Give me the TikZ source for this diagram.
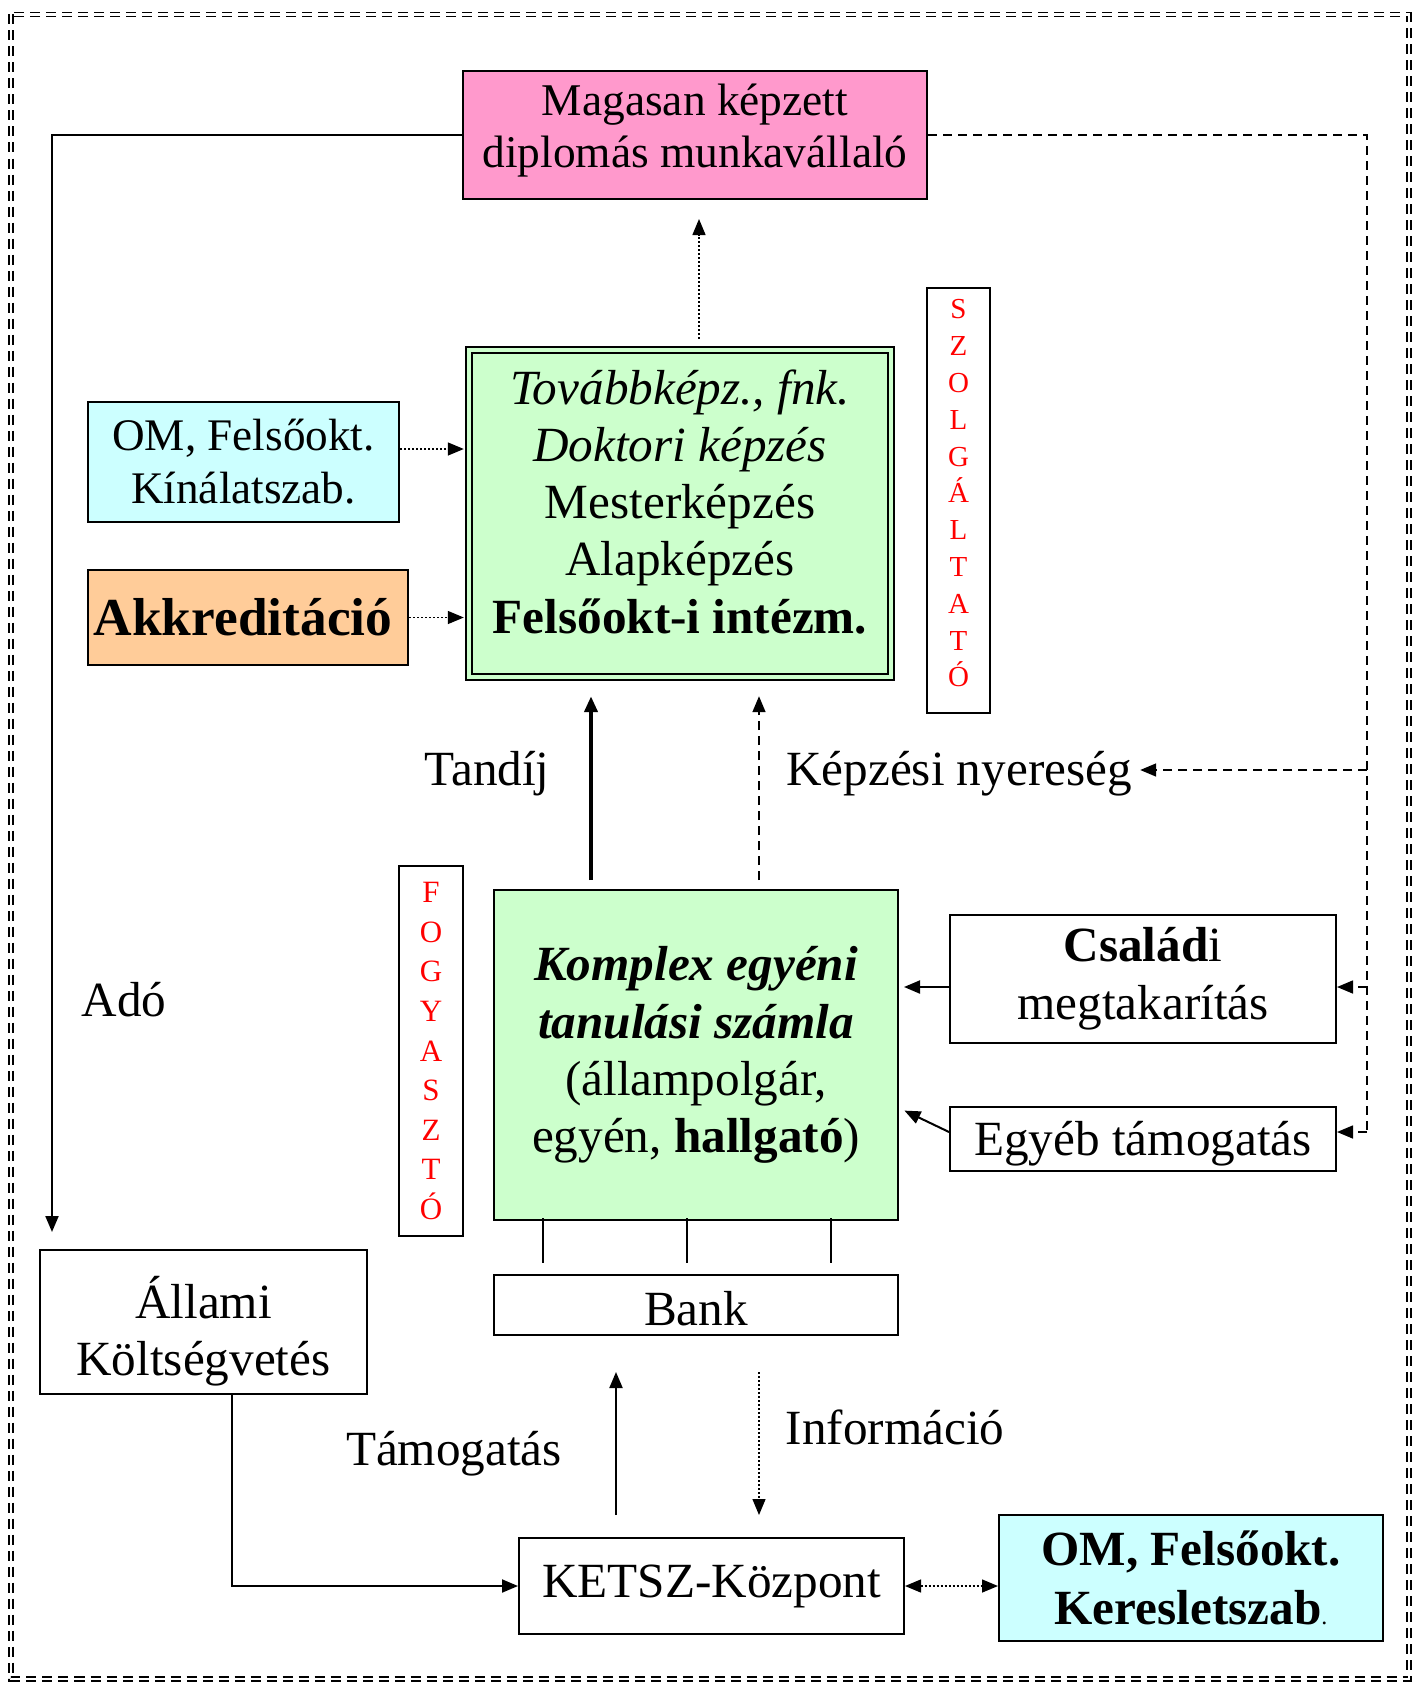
\documentclass[tikz,border=0pt]{standalone}
\usepackage{fontspec}
\setmainfont{Liberation Serif}
\usepackage{xcolor}
\usetikzlibrary{arrows.meta}

\definecolor{rozsaszin}{HTML}{FF99CC}
\definecolor{halvanyzold}{HTML}{CCFFCC}
\definecolor{halvanykek}{HTML}{CCFFFF}
\definecolor{barack}{HTML}{FFCC99}

\begin{document}
\begin{tikzpicture}[x=0.5pt,y=-0.5pt,
    doboz/.style={draw,line width=1pt,inner sep=0pt,align=center,font=\fontsize{24.6}{28.6}\selectfont},
    szoveg/.style={inner sep=0pt,align=center,font=\fontsize{24.6}{28.6}\selectfont},
    felirat/.style={inner sep=0pt,font=\fontsize{24.6}{28.6}\selectfont},
    hegy/.style={-{Triangle[length=8pt,width=6.5pt]}},
    vonal/.style={line width=1pt},
    pontozott/.style={line width=0.7pt,dash pattern=on 1pt off 1pt},
    szaggatott/.style={line width=0.8pt,dash pattern=on 4.5pt off 3pt}]
    \useasboundingbox (0,0) rectangle (1420,1686);
    \draw[double,line width=0.75pt,double distance=1.2pt,dash pattern=on 5pt off 3pt] (11,14.5) rectangle (1409,1679);

    \node[doboz,fill=rozsaszin,minimum width=232pt,minimum height=64pt,
        label={[szoveg,yshift=2pt,font=\fontsize{22.7}{26}\selectfont]center:{Magasan képzett\\diplomás munkavállaló}}] (magasan) at (695,135) {};
    \node[doboz,fill=halvanyzold,line width=1.2pt,double=halvanyzold,double distance=1.6pt,minimum width=211pt,minimum height=163.5pt,
        label={[szoveg,yshift=5.9pt]center:{\textit{Továbbképz., fnk.}\\\textit{Doktori képzés}\\Mesterképzés\\Alapképzés\\\textbf{Felsőokt-i intézm.}}}] (kinalat) at (680,513.5) {};
    \node[doboz,minimum width=31.5pt,minimum height=212.5pt,
        label={[szoveg,yshift=3.5pt,text=red,font=\fontsize{14.5}{18.4}\selectfont]center:{S\\Z\\O\\L\\G\\Á\\L\\T\\A\\T\\Ó}}] (szolg) at (958.5,500.5) {};
    \node[doboz,fill=halvanykek,minimum width=155.5pt,minimum height=60pt,font=\fontsize{22.6}{26.5}\selectfont] (om) at (243.5,462) {OM, Felsőokt.\\Kínálatszab.};
    \node[doboz,fill=barack,minimum width=160pt,minimum height=47.5pt,
        label={[szoveg,xshift=-2.5pt,font=\fontsize{26.7}{30}\selectfont\bfseries]center:{Akkreditáció}}] (akkr) at (248,617.5) {};

    \node[felirat] (tandij) at (487,774) {Tandíj};
    \node[felirat] (kepzesi) at (959,774) {Képzési nyereség};
    \node[felirat] (ado) at (124,1000) {Adó};

    \node[doboz,text=red,minimum width=32pt,minimum height=185pt,font=\fontsize{15.5}{19.8}\selectfont] (fogy) at (431,1051) {F\\O\\G\\Y\\A\\S\\Z\\T\\Ó};
    \node[doboz,fill=halvanyzold,minimum width=202pt,minimum height=165pt] (komplex) at (696,1055)
        {\textbf{\textit{Komplex egyéni}}\\\textbf{\textit{tanulási számla}}\\(állampolgár,\\egyén, \textbf{hallgató})};
    \node[doboz,minimum width=193pt,minimum height=64pt,font=\fontsize{24.6}{29}\selectfont] (csaladi) at (1143,979) {\textbf{Család}i\\megtakarítás};
    \node[doboz,minimum width=193pt,minimum height=32pt,
        label={[szoveg,yshift=-2.5pt]center:{Egyéb támogatás}}] (egyeb) at (1143,1139) {};
    \node[doboz,minimum width=202pt,minimum height=30pt,
        label={[szoveg,yshift=-2pt]center:{Bank}}] (bank) at (696,1305) {};
    \node[doboz,minimum width=163.5pt,minimum height=72pt,
        label={[szoveg,yshift=-4.5pt]center:{Állami\\Költségvetés}}] (allami) at (203.5,1322) {};

    \node[felirat] (tamogatas) at (454,1454) {Támogatás};
    \node[felirat] (informacio) at (895,1427) {Információ};
    \node[doboz,minimum width=192.5pt,minimum height=48pt] (ketsz) at (711.5,1586) {KETSZ-Központ};
    \node[doboz,fill=halvanykek,minimum width=192pt,minimum height=63pt,font=\fontsize{24.6}{29.5}\selectfont] (kereslet) at (1191,1578)
        {\textbf{OM, Felsőokt.}\\\textbf{Keresletszab}{\fontsize{12}{12}\selectfont.}};

    % bal oldali ado-ag es jobb oldali szaggatott ag
    \draw[vonal,hegy,shorten >=8.5pt] (magasan.west) -| ([xshift=-75.75pt]allami.north);
    \draw[szaggatott] (magasan.east) -| ([xshift=15pt,yshift=3.5pt]egyeb.east) coordinate (sarok);
    \draw[szaggatott,hegy] (sarok) -- ([yshift=3.5pt]egyeb.east);
    \draw[szaggatott,hegy] ([yshift=-4pt]csaladi.east -| sarok) -- ([yshift=-4pt]csaladi.east);
    \draw[szaggatott,hegy,shorten >=4pt] ([yshift=2pt]kepzesi.east -| sarok) -- ([yshift=2pt]kepzesi.east);

    \draw[pontozott,hegy,shorten <=5pt,shorten >=9.5pt] ([xshift=9.5pt]kinalat.north) -- ([xshift=9.5pt]kinalat.north |- magasan.south);
    \draw[pontozott,hegy,shorten >=2pt] ([yshift=6.5pt]om.east) -- ([yshift=6.5pt]om.east -| kinalat.west);
    \draw[pontozott,hegy,shorten >=2pt] (akkr.east) -- (akkr.east -| kinalat.west);

    \draw[line width=2pt,hegy,shorten <=4.5pt,shorten >=9pt] ([xshift=-52.5pt]komplex.north) -- ([xshift=-52.5pt]komplex.north |- kinalat.south);
    \draw[szaggatott,hegy,shorten <=4.5pt,shorten >=9pt] ([xshift=31.5pt]komplex.north) -- ([xshift=31.5pt]komplex.north |- kinalat.south);

    \draw[vonal,hegy,shorten >=2.5pt] ([yshift=-4pt]csaladi.west) -- ([yshift=-4pt]csaladi.west -| komplex.east);
    \draw[vonal,hegy,shorten >=3pt] ([yshift=3.5pt]egyeb.west) -- ([yshift=-26.5pt]komplex.east);

    \draw[line width=0.6pt] ([xshift=-76.5pt,yshift=1.5pt]komplex.south) -- ([xshift=-76.5pt,yshift=5.5pt]bank.north);
    \draw[line width=0.6pt] ([xshift=-4.5pt,yshift=1.5pt]komplex.south) -- ([xshift=-4.5pt,yshift=5.5pt]bank.north);
    \draw[line width=0.6pt] ([xshift=67.5pt,yshift=1.5pt]komplex.south) -- ([xshift=67.5pt,yshift=5.5pt]bank.north);

    \draw[vonal,hegy,shorten <=11pt,shorten >=18pt] ([xshift=-40pt]bank.south |- ketsz.north) -- ([xshift=-40pt]bank.south);
    \draw[pontozott,hegy,shorten <=18pt,shorten >=11pt] ([xshift=31.5pt]bank.south) -- ([xshift=31.5pt]bank.south |- ketsz.north);
    \draw[vonal,hegy] ([xshift=14.25pt]allami.south) |- (ketsz.west);
    \draw[pontozott,{Triangle[length=8pt,width=6.5pt]}-{Triangle[length=8pt,width=6.5pt]}] (ketsz.east) -- (ketsz.east -| kereslet.west);
\end{tikzpicture}
\end{document}
